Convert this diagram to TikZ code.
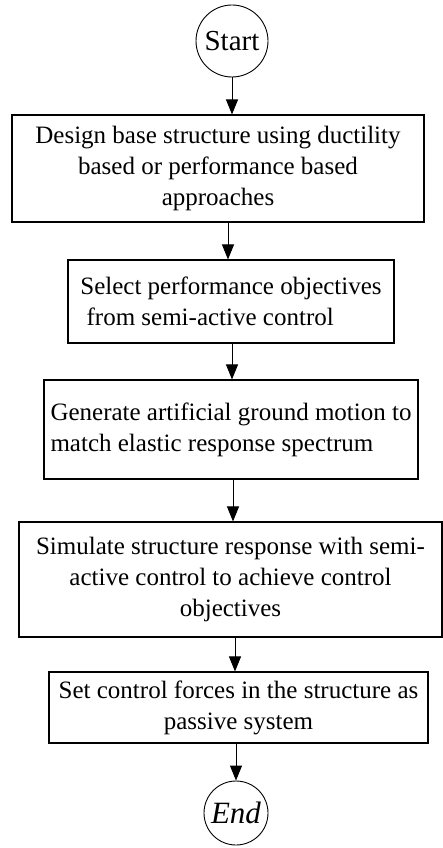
\documentclass[tikz,border=0pt]{standalone}
\usepackage{fontspec}
\setmainfont{Liberation Serif}
\usetikzlibrary{arrows.meta}
\begin{document}
\begin{tikzpicture}[x=1pt,y=-1pt,
    flowbox/.style={draw, line width=1.1pt, inner sep=0pt, font=\fontsize{25}{31}\selectfont},
    terminal/.style={draw, circle, line width=0.9pt, inner sep=0pt},
    flowarrow/.style={line width=1pt, -{Triangle[width=12pt,length=15pt]}}]
\useasboundingbox (0,0) rectangle (443,848);
%\tikzset{every node/.style={font=\Large}}
\node[terminal, minimum size=72pt, font=\fontsize{29}{30}\selectfont] (start) at (232,41) {Start};
\node[flowbox, minimum width=412pt, minimum height=107pt, align=center] (b1) at (218,168.5)
    {Design base structure using ductility\\ based or performance based\\ approaches};
\node[flowbox, minimum width=326pt, minimum height=83pt, align=left] (b2) at (231,301.5)
    {Select performance objectives\\ \ from semi-active control};
\node[flowbox, minimum width=374pt, minimum height=99pt, align=left] (b3) at (231,429.5)
    {Generate artificial ground motion to\\ match elastic response spectrum};
\node[flowbox, minimum width=423pt, minimum height=115pt, align=center] (b4) at (230.5,579.5)
    {Simulate structure response with semi-\\ active control to achieve control\\ objectives};
\node[flowbox, minimum width=379pt, minimum height=71pt, align=center] (b5) at (238.5,707.5)
    {Set control forces in the structure as\\ passive system};
\node[terminal, minimum size=64pt, font=\fontsize{31}{32}\selectfont\itshape] (end) at (236,813) {End};
% arrows
\draw[flowarrow] (start) -- (start |- b1.north);
\draw[flowarrow] (b1.south -| 228,0) -- (b2.north -| 228,0);
\draw[flowarrow] (b2.south -| 232,0) -- (b3.north -| 232,0);
\draw[flowarrow] (b3.south -| 233,0) -- (b4.north -| 233,0);
\draw[flowarrow] (b4.south -| 235,0) -- (b5.north -| 235,0);
\draw[flowarrow] (b5.south -| end) -- (end);
\end{tikzpicture}
\end{document}
